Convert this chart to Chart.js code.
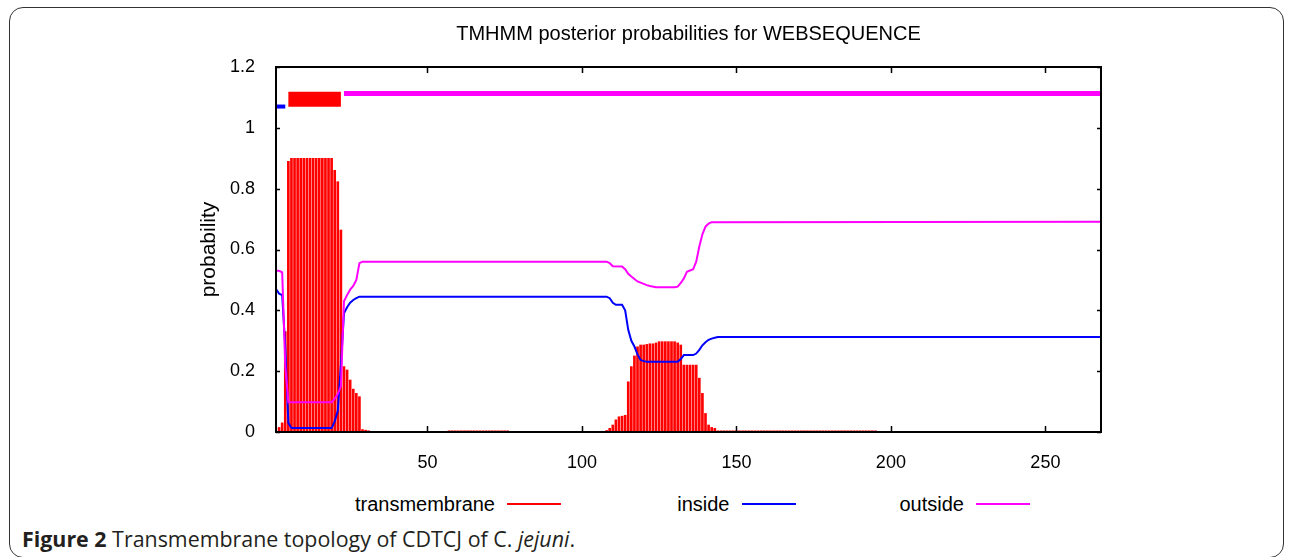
<!DOCTYPE html>
<html>
<head>
<meta charset="utf-8">
<script src="https://cdn.jsdelivr.net/npm/chart.js@4.4.1/dist/chart.umd.min.js"></script>
<style>
  html, body { margin: 0; padding: 0; background: #fff; }
  body { width: 1292px; height: 557px; position: relative; overflow: hidden;
         font-family: "Liberation Sans", Arial, sans-serif; }
  .frame { position: absolute; left: 9px; top: 7px; width: 1275px; height: 551px;
           border: 1.5px solid #333; border-radius: 14px; box-sizing: border-box; }
  #wrap { position: absolute; left: 0; top: 0; width: 1292px; height: 480px; }
  .legend-item { position: absolute; top: 492px; height: 24px; width: 54px; }
  .legend-line { position: absolute; left: 0; top: 11px; width: 54px; height: 2px; }
  .legend-label { position: absolute; right: 66px; top: 0; font-size: 20px; line-height: 24px;
                  color: #000; white-space: nowrap; }
  .caption { position: absolute; left: 22px; top: 524px; font-family: "Open Sans", sans-serif;
             font-size: 21.4px; line-height: 30px; color: #231f20; white-space: nowrap; }
</style>
</head>
<body>
<div class="frame"></div>
<div id="wrap"><canvas id="tmChart"></canvas></div>
<div class="legend"></div>
<div class="caption"><b>Figure 2</b> Transmembrane topology of CDTCJ of C. <i>jejuni</i>.</div>

<script>
// ─── Dados ────────────────────────────────────────────────
const xTicks = [50, 100, 150, 200, 250];
const yTicks = [0, 0.2, 0.4, 0.6, 0.8, 1, 1.2];

// probabilidade transmembrana por resíduo (1..268)
const transmembrane = [
  0, 0.015, 0.03, 0.33, 0.89, 0.9, 0.9, 0.9, 0.9, 0.9,                 // 1-10
  0.9, 0.9, 0.9, 0.9, 0.9, 0.9, 0.9, 0.9, 0.9, 0.86,                   // 11-20
  0.823, 0.664, 0.215, 0.204, 0.171, 0.141, 0.127, 0.116, 0.008, 0.006, // 21-30
  0.004, 0, 0, 0, 0, 0, 0, 0, 0, 0,                                    // 31-40
  0, 0, 0, 0, 0, 0, 0, 0, 0, 0,                                        // 41-50
  0, 0, 0, 0, 0, 0, 0.004, 0.004, 0.004, 0.004,                        // 51-60
  0.004, 0.004, 0.004, 0.004, 0.004, 0.004, 0.004, 0.004, 0.004, 0.004, // 61-70
  0.004, 0.004, 0.004, 0.004, 0.004, 0.004, 0, 0, 0, 0,                // 71-80
  0, 0, 0, 0, 0, 0, 0, 0, 0, 0,                                        // 81-90
  0, 0, 0, 0, 0, 0, 0, 0, 0, 0,                                        // 91-100
  0, 0, 0, 0, 0, 0, 0, 0.005, 0.012, 0.023,                            // 101-110
  0.04, 0.05, 0.052, 0.055, 0.165, 0.215, 0.25, 0.28, 0.286, 0.286,    // 111-120
  0.288, 0.29, 0.29, 0.293, 0.297, 0.297, 0.297, 0.297, 0.297, 0.297,  // 121-130
  0.293, 0.286, 0.22, 0.22, 0.22, 0.22, 0.22, 0.177, 0.127, 0.061,     // 131-140
  0.023, 0.015, 0.012, 0.004, 0.004, 0.004, 0.004, 0.004, 0.004, 0.004, // 141-150
  0.004, 0.004, 0.004, 0.004, 0.004, 0.004, 0.004, 0.004, 0.004, 0.004, // 151-160
  0.004, 0.004, 0.004, 0.004, 0.004, 0.004, 0.004, 0.004, 0.004, 0.004, // 161-170
  0.004, 0.004, 0.004, 0.004, 0.004, 0.004, 0.004, 0.004, 0.004, 0.004, // 171-180
  0.004, 0.004, 0.004, 0.004, 0.004, 0.004, 0.004, 0.004, 0.004, 0.004, // 181-190
  0.004, 0.004, 0.004, 0.004, 0.004, 0, 0, 0, 0, 0,                    // 191-200
  0, 0, 0, 0, 0, 0, 0, 0, 0, 0,                                        // 201-210
  0, 0, 0, 0, 0, 0, 0, 0, 0, 0,                                        // 211-220
  0, 0, 0, 0, 0, 0, 0, 0, 0, 0,                                        // 221-230
  0, 0, 0, 0, 0, 0, 0, 0, 0, 0,                                        // 231-240
  0, 0, 0, 0, 0, 0, 0, 0, 0, 0,                                        // 241-250
  0, 0, 0, 0, 0, 0, 0, 0, 0, 0,                                        // 251-260
  0, 0, 0, 0, 0, 0, 0, 0                                               // 261-268
];

// curvas "inside" e "outside": [resíduo, probabilidade] nos vértices
const inside = [
  [1, 0.47], [2, 0.455], [3, 0.45], [4, 0.28], [5, 0.03], [6, 0.013], [19, 0.013],
  [20, 0.035], [21, 0.07], [22, 0.22], [23, 0.39], [24, 0.41], [25, 0.425], [26, 0.434],
  [27, 0.44], [28, 0.445], [108, 0.445], [109, 0.44], [110, 0.425], [111, 0.418],
  [113, 0.418], [114, 0.4], [115, 0.336], [116, 0.3], [117, 0.281], [118, 0.255],
  [119, 0.237], [120, 0.233], [121, 0.231], [131, 0.231], [132, 0.24], [133, 0.253],
  [136, 0.253], [137, 0.258], [138, 0.27], [139, 0.285], [140, 0.295], [141, 0.303],
  [142, 0.307], [143, 0.31], [144, 0.312], [268, 0.312]
];
const outside = [
  [1, 0.53], [2, 0.53], [3, 0.525], [4, 0.22], [5, 0.098], [19, 0.098], [20, 0.11],
  [21, 0.125], [22, 0.15], [23, 0.43], [24, 0.45], [25, 0.468], [26, 0.48], [27, 0.5],
  [28, 0.555], [29, 0.56], [108, 0.56], [109, 0.555], [110, 0.545], [113, 0.544],
  [114, 0.535], [115, 0.52], [116, 0.511], [117, 0.503], [118, 0.495], [119, 0.491],
  [120, 0.487], [121, 0.483], [122, 0.48], [124, 0.476], [130, 0.476], [131, 0.478],
  [132, 0.49], [133, 0.505], [134, 0.527], [136, 0.535], [137, 0.56], [138, 0.61],
  [139, 0.65], [140, 0.675], [141, 0.685], [142, 0.69], [268, 0.691]
];

// topologia prevista (faixa no topo): [início, fim]
const insideSegment  = [1, 4];
const tmSegment      = [5, 22];
const outsideSegment = [23, 268];
const insideLevel = 1.07, tmLevel = 1.094, outsideLevel = 1.113;

// ─── Cores ────────────────────────────────────────────────
const RED = '#ff0000', BLUE = '#0000ff', MAGENTA = '#ff00ff';

const toPoints = arr => arr.map(([x, y]) => ({ x, y }));
const segment = (seg, level) => seg.map(x => ({ x, y: level }));

// ─── Ticks para dentro + moldura (estilo gnuplot) ─────────
const innerTicks = {
  id: 'innerTicks',
  afterDraw(chart) {
    const { ctx, chartArea: a, scales: { x, y } } = chart;
    ctx.save();
    ctx.strokeStyle = '#000';
    ctx.lineWidth = 1.5;
    ctx.beginPath();
    x.ticks.forEach(t => {
      const px = Math.round(x.getPixelForValue(t.value)) + 0.5;
      ctx.moveTo(px, a.bottom); ctx.lineTo(px, a.bottom - 6);
      ctx.moveTo(px, a.top);    ctx.lineTo(px, a.top + 6);
    });
    y.ticks.forEach(t => {
      const py = Math.round(y.getPixelForValue(t.value)) + 0.5;
      ctx.moveTo(a.left, py);  ctx.lineTo(a.left + 4, py);
      ctx.moveTo(a.right, py); ctx.lineTo(a.right - 4, py);
    });
    ctx.stroke();
    ctx.lineWidth = 2;
    ctx.strokeRect(a.left, a.top, a.right - a.left, a.bottom - a.top);
    ctx.restore();
  }
};

Chart.defaults.font.family = '"Liberation Sans", Arial, sans-serif';
Chart.defaults.color = '#000';

const chart = new Chart(document.getElementById('tmChart'), {
  type: 'bar',
  data: {
    datasets: [
      {
        label: 'transmembrane',
        data: transmembrane.map((v, i) => ({ x: i + 1, y: v })),
        backgroundColor: RED,
        barThickness: 2,
        order: 3,
      },
      {
        type: 'line', label: 'inside', data: toPoints(inside),
        borderColor: BLUE, borderWidth: 2, pointRadius: 0, tension: 0, order: 2,
      },
      {
        type: 'line', label: 'outside', data: toPoints(outside),
        borderColor: MAGENTA, borderWidth: 2, pointRadius: 0, tension: 0, order: 1,
      },
      {
        type: 'line', label: 'inside-seg', data: segment(insideSegment, insideLevel),
        borderColor: BLUE, borderWidth: 4, pointRadius: 0, order: 0,
      },
      {
        type: 'line', label: 'tm-seg', data: segment(tmSegment, tmLevel),
        borderColor: RED, borderWidth: 15, pointRadius: 0, order: 0,
      },
      {
        type: 'line', label: 'outside-seg', data: segment(outsideSegment, outsideLevel),
        borderColor: MAGENTA, borderWidth: 5, pointRadius: 0, order: 0,
      },
    ]
  },
  options: {
    responsive: true,
    maintainAspectRatio: false,
    animation: false,
    layout: { padding: { left: 190, right: 191, top: 10, bottom: 8 } },
    plugins: {
      legend: { display: false },
      tooltip: { enabled: false },
      title: {
        display: true,
        text: 'TMHMM posterior probabilities for WEBSEQUENCE',
        fullSize: false,
        font: { size: 20, weight: 'normal' },
        padding: { top: 12, bottom: 21 },
      },
    },
    scales: {
      x: {
        type: 'linear', min: 1, max: 268, offset: false,
        afterBuildTicks: s => { s.ticks = xTicks.map(v => ({ value: v })); },
        afterFit: s => { s.height = 40; },
        grid: { display: false, offset: false },
        border: { display: false },
        ticks: { font: { size: 18 }, padding: 12, maxRotation: 0, autoSkip: false },
      },
      y: {
        min: 0, max: 1.2,
        afterBuildTicks: s => { s.ticks = yTicks.map(v => ({ value: v })); },
        afterFit: s => { s.width = 86; },
        grid: { display: false },
        border: { display: false },
        ticks: { font: { size: 18 }, padding: 13, callback: v => String(v) },
        title: { display: true, text: 'probability', font: { size: 21 }, padding: { top: 7 } },
      },
    },
  },
  plugins: [innerTicks],
});

// ─── Legenda (texto à esquerda da amostra, como no gnuplot) ──
const legend = document.querySelector('.legend');
legend.innerHTML = chart.data.datasets.slice(0, 3).map((ds, i) => {
  const color = ds.borderColor || ds.backgroundColor;
  return `
    <div class="legend-item" style="left:${507 + i * 234.5}px;">
      <span class="legend-label">${ds.label}</span>
      <span class="legend-line" style="background:${color};"></span>
    </div>`;
}).join('');
</script>
</body>
</html>
